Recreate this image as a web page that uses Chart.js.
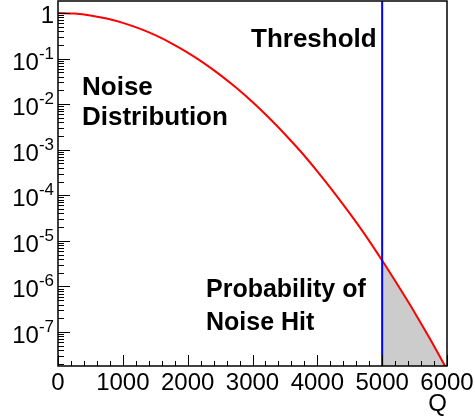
<!DOCTYPE html>
<html>
<head>
<meta charset="utf-8">
<script src="https://cdn.jsdelivr.net/npm/chart.js@4"></script>
<style>
  html, body { margin: 0; padding: 0; background: #fff; }
</style>
</head>
<body>
<canvas id="noiseChart" width="475" height="416"></canvas>
<script>
// values
const qValues = [0, 250, 500, 750, 1000, 1250, 1500, 1750, 2000, 2250, 2500, 2750, 3000,
  3250, 3500, 3750, 4000, 4250, 4500, 4750, 5000, 5250, 5500, 5750, 6000];
const noiseValues = [1, 0.969, 0.882, 0.755, 0.607, 0.458, 0.325, 0.216, 0.135, 0.0796,
  0.0439, 0.0228, 0.0111, 0.00507, 0.00219, 8.9e-4, 3.35e-4, 1.19e-4, 4.0e-5, 1.27e-5,
  3.7e-6, 1.02e-6, 2.7e-7, 6.6e-8, 1.5e-8];
const thresholdQ = 5000;
const xTickValues = [0, 1000, 2000, 3000, 4000, 5000, 6000];
const yDecades = [0, -1, -2, -3, -4, -5, -6, -7];
const yMin = 1.8e-8;
const yMax = 1.83;

const FONT = "'Liberation Sans', Arial, Helvetica, sans-serif";

const curvePoints = qValues.map((q, i) => ({ x: q, y: noiseValues[i] }));
const hitPoints = curvePoints.filter((p) => p.x >= thresholdQ);

const rootAxesPlugin = {
  id: "rootAxes",
  afterDraw(chart) {
    const ctx = chart.ctx;
    const area = chart.chartArea;
    const xs = chart.scales.x;
    const ys = chart.scales.y;

    ctx.save();
    ctx.strokeStyle = "#000";
    ctx.fillStyle = "#000";

    // x ticks, pointing up into the frame
    ctx.lineWidth = 1;
    for (let q = 0; q <= 6000; q += 200) {
      const px = Math.round(xs.getPixelForValue(q)) + 0.5;
      const len = q % 1000 === 0 ? 11 : 5;
      ctx.beginPath();
      ctx.moveTo(px, area.bottom);
      ctx.lineTo(px, area.bottom - len);
      ctx.stroke();
    }

    // y ticks, pointing right into the frame
    for (let e = -8; e <= 0; e++) {
      for (let k = 1; k <= 9; k++) {
        const v = k * Math.pow(10, e);
        if (v < yMin || v > yMax) continue;
        const py = Math.round(ys.getPixelForValue(v)) + 0.5;
        const len = k === 1 ? 12 : 6;
        ctx.beginPath();
        ctx.moveTo(area.left, py);
        ctx.lineTo(area.left + len, py);
        ctx.stroke();
      }
    }

    // frame
    ctx.lineWidth = 1.5;
    ctx.strokeRect(area.left, area.top, area.right - area.left, area.bottom - area.top);

    // x labels
    ctx.font = "24px " + FONT;
    ctx.textAlign = "center";
    ctx.textBaseline = "alphabetic";
    xTickValues.forEach((q) => {
      ctx.fillText(String(q), xs.getPixelForValue(q), 390);
    });
    ctx.textAlign = "right";
    ctx.fillText("Q", area.right, 411);

    // y labels
    yDecades.forEach((e) => {
      const py = ys.getPixelForValue(Math.pow(10, e));
      if (e === 0) {
        ctx.font = "24px " + FONT;
        ctx.textAlign = "right";
        ctx.fillText("1", 54, py + 10);
        return;
      }
      const exp = String(e);
      ctx.font = "17px " + FONT;
      ctx.textAlign = "right";
      ctx.fillText(exp, 54, py);
      const expW = ctx.measureText(exp).width;
      ctx.font = "24px " + FONT;
      ctx.fillText("10", 54 - expW, py + 11);
    });

    // annotations
    ctx.textAlign = "left";
    ctx.font = "bold 26px " + FONT;
    ctx.fillText("Threshold", 251, 47);
    ctx.font = "bold 26px " + FONT;
    ctx.fillText("Noise", 82, 95);
    ctx.fillText("Distribution", 82, 125);
    ctx.font = "bold 25px " + FONT;
    ctx.fillText("Probability of", 206, 297);
    ctx.fillText("Noise Hit", 206, 330);

    ctx.restore();
  },
};

new Chart(document.getElementById("noiseChart"), {
  type: "line",
  data: {
    datasets: [
      {
        label: "Probability of Noise Hit",
        data: hitPoints,
        borderWidth: 0,
        borderColor: "rgba(0,0,0,0)",
        backgroundColor: "#cccccc",
        fill: "start",
        pointRadius: 0,
        cubicInterpolationMode: "monotone",
        order: 3,
      },
      {
        label: "Noise Distribution",
        data: curvePoints,
        borderColor: "#ff0000",
        borderWidth: 2,
        fill: false,
        pointRadius: 0,
        cubicInterpolationMode: "monotone",
        order: 2,
      },
      {
        label: "Threshold",
        data: [
          { x: thresholdQ, y: yMin },
          { x: thresholdQ, y: yMax },
        ],
        borderColor: "#0000ff",
        borderWidth: 2,
        fill: false,
        pointRadius: 0,
        order: 1,
      },
    ],
  },
  options: {
    responsive: false,
    animation: false,
    layout: { padding: { left: 58, right: 28, top: 1, bottom: 50 } },
    plugins: {
      legend: { display: false },
      tooltip: { enabled: false },
    },
    scales: {
      x: { type: "linear", min: 0, max: 6000, display: false },
      y: { type: "logarithmic", min: yMin, max: yMax, display: false },
    },
  },
  plugins: [rootAxesPlugin],
});
</script>
</body>
</html>
